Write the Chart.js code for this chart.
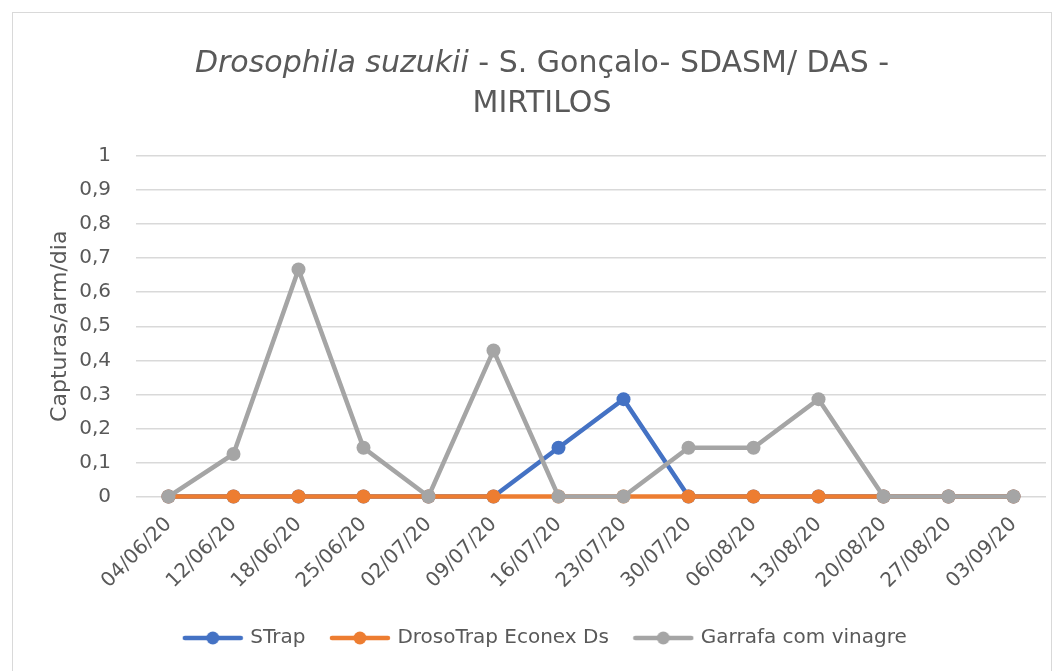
<!DOCTYPE html>
<html>
<head>
<meta charset="utf-8">
<script src="https://cdn.jsdelivr.net/npm/chart.js@4"></script>
<style>
  body { margin: 0; background: #fff; font-family: "DejaVu Sans", sans-serif; }
  #frame { position: absolute; left: 12px; top: 12px; width: 1038px; height: 680px; border: 1px solid #d9d9d9; }
  #title { position: absolute; left: 0; top: 42px; width: 1084px; text-align: center; color: #595959; font-size: 30px; line-height: 40px; }
  #wrap { position: absolute; left: 0; top: 0; width: 1061px; height: 671px; }
</style>
</head>
<body>
<div id="frame"></div>
<div id="wrap"><canvas id="chart"></canvas></div>
<div id="title"><i>Drosophila suzukii</i> - S. Gonçalo- SDASM/ DAS -<br>MIRTILOS</div>
<script>
const dates = ["04/06/20", "12/06/20", "18/06/20", "25/06/20", "02/07/20", "09/07/20", "16/07/20",
  "23/07/20", "30/07/20", "06/08/20", "13/08/20", "20/08/20", "27/08/20", "03/09/20"];
const strapValues = [0, 0, 0, 0, 0, 0, 0.143, 0.286, 0, 0, 0, 0, 0, 0];
const drosoTrapValues = [0, 0, 0, 0, 0, 0, 0, 0, 0, 0, 0, 0, 0, 0];
const garrafaValues = [0, 0.125, 0.667, 0.143, 0, 0.429, 0, 0, 0.143, 0.143, 0.286, 0, 0, 0];

const textColor = "#595959";
const gridColor = "#d9d9d9";
const fontFamily = "'DejaVu Sans', sans-serif";

// legend marker: short line with a dot in the middle, like excel
function legendMarker(color) {
  const c = document.createElement("canvas");
  c.width = 62;
  c.height = 14;
  const ctx = c.getContext("2d");
  ctx.strokeStyle = color;
  ctx.lineWidth = 4.5;
  ctx.lineCap = "round";
  ctx.beginPath();
  ctx.moveTo(3, 7);
  ctx.lineTo(59, 7);
  ctx.stroke();
  ctx.fillStyle = color;
  ctx.beginPath();
  ctx.arc(31, 7, 6.5, 0, Math.PI * 2);
  ctx.fill();
  return c;
}

function makeSeries(label, values, color, order) {
  return {
    label: label,
    data: values,
    order: order,
    clip: false,
    borderColor: color,
    backgroundColor: color,
    borderWidth: 4.5,
    pointRadius: 7,
    pointBackgroundColor: color,
    pointBorderWidth: 0,
    tension: 0,
    legendImage: legendMarker(color),
  };
}

// excel centres the legend under the plot, not under the whole canvas
const legendShift = {
  id: "legendShift",
  afterLayout(chart) {
    chart.legend.left += 46;
  },
};

new Chart(document.getElementById("chart"), {
  type: "line",
  data: {
    labels: dates,
    datasets: [
      // lower order is painted on top, so the grey bottle series covers the others
      makeSeries("STrap", strapValues, "#4472C4", 2),
      makeSeries("DrosoTrap Econex Ds", drosoTrapValues, "#ED7D31", 1),
      makeSeries("Garrafa com vinagre", garrafaValues, "#A5A5A5", 0),
    ],
  },
  plugins: [legendShift],
  options: {
    responsive: true,
    maintainAspectRatio: false,
    animation: false,
    layout: { padding: { top: 156, left: 0, right: 15, bottom: 13 } },
    plugins: {
      tooltip: { enabled: false },
      legend: {
        position: "bottom",
        labels: {
          color: textColor,
          font: { family: fontFamily, size: 20 },
          usePointStyle: true,
          pointStyleWidth: 55,
          padding: 27,
          generateLabels: (chart) =>
            chart.data.datasets.map((ds, i) => ({
              text: ds.label,
              pointStyle: ds.legendImage,
              fontColor: textColor,
              datasetIndex: i,
              lineWidth: 0,
            })),
        },
      },
    },
    scales: {
      x: {
        offset: true,
        grid: { display: false },
        border: { display: false },
        ticks: {
          color: textColor,
          font: { family: fontFamily, size: 20 },
          minRotation: 45,
          maxRotation: 45,
          autoSkip: false,
          padding: 8,
        },
      },
      y: {
        min: 0,
        max: 1,
        grid: { color: gridColor, lineWidth: 1.5, drawTicks: false },
        border: { display: false },
        // fixed axis width so the plot starts where excel puts it
        afterFit: (scale) => {
          scale.width = 136;
        },
        ticks: {
          stepSize: 0.1,
          padding: 25,
          color: textColor,
          font: { family: fontFamily, size: 20 },
          callback: (value) => String(Math.round(value * 10) / 10).replace(".", ","),
        },
        title: {
          display: true,
          text: "Capturas/arm/dia",
          color: textColor,
          font: { family: fontFamily, size: 22 },
          padding: { top: 47, bottom: 2 },
        },
      },
    },
  },
});
</script>
</body>
</html>
